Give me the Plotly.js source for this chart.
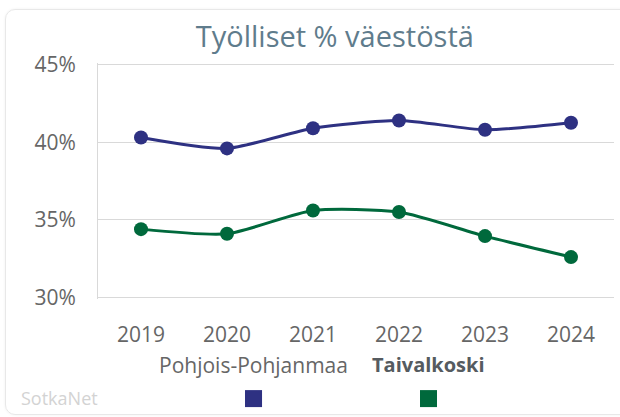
<!DOCTYPE html>
<html>
<head>
<meta charset="utf-8">
<script src="https://cdn.plot.ly/plotly-3.0.1.min.js"></script>
<style>
  html, body { margin: 0; padding: 0; background: #ffffff; overflow: hidden; }
  #card { position: absolute; left: 5px; top: 9px; width: 660px; height: 404px;
          border: 1px solid #e8e8e8; border-radius: 10px; box-shadow: 0 0 3px rgba(0,0,0,0.06); }
  #chart { position: absolute; left: 0; top: 0; width: 620px; height: 417px; }
</style>
</head>
<body>
<div id="card"></div>
<div id="chart"></div>
<script>
const years = ["2019", "2020", "2021", "2022", "2023", "2024"];
const seriesNames = ["Pohjois-Pohjanmaa", "Taivalkoski"];
const pohjoisPohjanmaa = [40.3, 39.6, 40.9, 41.4, 40.8, 41.25];
const taivalkoski = [34.4, 34.1, 35.6, 35.5, 33.95, 32.6];
const yTickVals = [30, 35, 40, 45];
const yTickText = ["30%", "35%", "40%", "45%"];
const colors = ["#2e3182", "#00693c"];
const FONT = "Open Sans, Noto Sans, sans-serif";

function trace(name, vals, color) {
  return {
    type: "scatter", mode: "lines+markers", name: name,
    x: years, y: vals,
    line: { color: color, width: 3, shape: "spline", smoothing: 0.65 },
    marker: { color: color, size: 14 },
    hoverinfo: "x+y+name"
  };
}

const data = [
  trace(seriesNames[0], pohjoisPohjanmaa, colors[0]),
  trace(seriesNames[1], taivalkoski, colors[1])
];

// legend: label above swatch
const legendX = [0.3014, 0.6405];
const legendSize = [21, 20];
const annotations = seriesNames.map((n, i) => ({
  xref: "paper", yref: "paper", x: legendX[i], y: -0.279,
  xanchor: "center", yanchor: "middle", showarrow: false,
  text: i === 1 ? "<b>" + n + "</b>" : n,
  font: { family: FONT, size: legendSize[i], color: i === 1 ? "#555b60" : "#666666" }
}));
annotations.push({
  xref: "paper", yref: "paper", x: -0.153, y: -0.421,
  xanchor: "left", yanchor: "middle", showarrow: false,
  text: "SotkaNet", font: { family: FONT, size: 18, color: "#d3d3d3" }
});
const sw = 0.0165, sh = 0.036;
const shapes = seriesNames.map((n, i) => ({
  type: "rect", xref: "paper", yref: "paper",
  x0: legendX[i] - sw, x1: legendX[i] + sw, y0: -0.422 - sh, y1: -0.422 + sh,
  fillcolor: colors[i], line: { width: 0 }
}));

const layout = {
  width: 620, height: 417,
  paper_bgcolor: "rgba(0,0,0,0)", plot_bgcolor: "rgba(0,0,0,0)",
  margin: { l: 98, r: 6, t: 63, b: 118 },
  showlegend: false,
  title: {
    text: "Työlliset % väestöstä",
    x: 0.54, xanchor: "center", y: 0.912, yanchor: "middle",
    font: { family: FONT, size: 29, color: "#5f7c8c" }
  },
  xaxis: {
    type: "category", range: [-0.5, 5.5],
    showgrid: false, zeroline: false, showline: false,
    ticks: "", ticklabelstandoff: 21,
    tickfont: { family: FONT, size: 21, color: "#666666" }
  },
  yaxis: {
    range: [29.9, 45.1], tickvals: yTickVals, ticktext: yTickText,
    showgrid: true, gridcolor: "#d9d9d9", gridwidth: 1,
    zeroline: false, showline: true, linecolor: "#d9d9d9", linewidth: 1,
    ticks: "", ticklabelstandoff: 17,
    tickfont: { family: FONT, size: 21, color: "#666666" }
  },
  annotations: annotations,
  shapes: shapes,
  font: { family: FONT }
};

Plotly.newPlot("chart", data, layout, { displayModeBar: false, staticPlot: true });
</script>
</body>
</html>
